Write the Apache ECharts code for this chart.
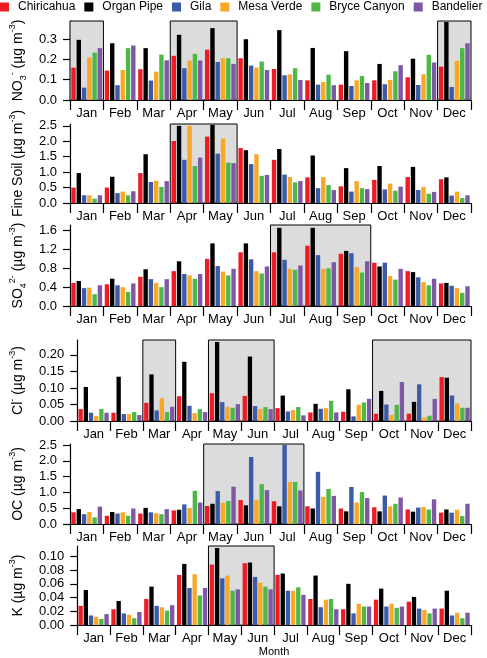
<!DOCTYPE html>
<html><head><meta charset="utf-8">
<script src="https://cdn.jsdelivr.net/npm/echarts@6/dist/echarts.min.js"></script>
<style>html,body{margin:0;padding:0;background:#fff}#c{width:487px;height:658px}</style>
</head><body><div id="c"></div>
<script>
const months = ['Jan','Feb','Mar','Apr','May','Jun','Jul','Aug','Sep','Oct','Nov','Dec'];
const sites = ['Chiricahua','Organ Pipe','Gila','Mesa Verde','Bryce Canyon','Bandelier'];
const siteColors = ['#ED1C24','#000000','#3B5BA9','#F9A825','#4DB848','#7E57A6'];

// NO3- (ug m-3)
const no3Chiricahua = [0.160,0.145,0.152,0.218,0.248,0.206,0.153,0.097,0.076,0.097,0.112,0.165];
const no3OrganPipe  = [0.297,0.280,0.256,0.322,0.355,0.300,0.345,0.257,0.241,0.178,0.204,0.385];
const no3Gila       = [0.061,0.073,0.096,0.157,0.188,0.170,0.122,0.076,0.069,0.078,0.074,0.064];
const no3MesaVerde  = [0.210,0.148,0.140,0.195,0.206,0.160,0.127,0.089,0.097,0.099,0.127,0.193];
const no3Bryce      = [0.234,0.256,0.224,0.228,0.206,0.190,0.157,0.125,0.119,0.142,0.223,0.256];
const no3Bandelier  = [0.256,0.269,0.196,0.195,0.178,0.148,0.099,0.073,0.084,0.172,0.185,0.280];
const no3Ticks = [0,0.1,0.2,0.3];

// Fine soil
const soilChiricahua = [0.50,0.50,0.97,2.01,2.15,1.78,1.40,0.83,0.54,0.75,0.84,0.77];
const soilOrganPipe  = [0.97,0.85,1.58,2.50,2.53,1.71,1.75,1.54,1.13,1.20,1.17,0.83];
const soilGila       = [0.25,0.32,0.68,1.40,1.60,1.26,0.92,0.48,0.37,0.44,0.42,0.24];
const soilMesaVerde  = [0.25,0.37,0.72,2.50,2.09,1.58,0.84,0.84,0.71,0.63,0.52,0.37];
const soilBryce      = [0.14,0.25,0.52,1.20,1.31,0.88,0.67,0.58,0.48,0.40,0.30,0.16];
const soilBandelier  = [0.25,0.38,0.71,1.47,1.29,0.91,0.71,0.42,0.45,0.53,0.36,0.25];
const soilTicks = [0,0.5,1.0,1.5,2.0,2.5];

// SO4 2-
const so4Chiricahua = [0.49,0.46,0.62,0.74,1.00,1.14,1.14,1.28,1.11,0.92,0.74,0.48];
const so4OrganPipe  = [0.53,0.58,0.78,0.95,1.33,1.33,1.66,1.66,1.17,0.84,0.72,0.49];
const so4Gila       = [0.38,0.44,0.57,0.68,0.85,0.99,0.98,1.08,1.12,0.92,0.61,0.43];
const so4MesaVerde  = [0.39,0.40,0.49,0.65,0.73,0.74,0.79,0.79,0.83,0.64,0.51,0.38];
const so4Bryce      = [0.25,0.30,0.40,0.58,0.65,0.69,0.77,0.80,0.71,0.56,0.44,0.28];
const so4Bandelier  = [0.44,0.48,0.57,0.68,0.79,0.84,0.86,0.93,0.95,0.79,0.58,0.42];
const so4Ticks = [0,0.4,0.8,1.2,1.6];

// Cl-
const clChiricahua = [0.036,0.025,0.055,0.075,0.084,0.076,0.039,0.026,0.028,0.022,0.022,0.133];
const clOrganPipe  = [0.103,0.134,0.141,0.179,0.239,0.195,0.077,0.052,0.096,0.091,0.058,0.131];
const clGila       = [0.025,0.021,0.032,0.046,0.057,0.045,0.029,0.037,0.014,0.050,0.111,0.077];
const clMesaVerde  = [0.015,0.021,0.069,0.024,0.043,0.036,0.033,0.039,0.049,0.018,0.011,0.053];
const clBryce      = [0.036,0.027,0.027,0.036,0.040,0.042,0.042,0.061,0.056,0.049,0.016,0.040];
const clBandelier  = [0.025,0.018,0.043,0.027,0.051,0.036,0.017,0.026,0.067,0.118,0.067,0.040];
const clTicks = [0,0.05,0.10,0.15,0.20];

// OC
const ocChiricahua = [0.37,0.26,0.33,0.43,0.57,0.76,0.72,0.56,0.49,0.53,0.46,0.36];
const ocOrganPipe  = [0.47,0.38,0.51,0.45,0.64,0.59,0.56,0.49,0.40,0.40,0.39,0.46];
const ocGila       = [0.31,0.33,0.37,0.62,1.04,2.12,2.50,1.65,1.17,0.90,0.52,0.36];
const ocMesaVerde  = [0.38,0.37,0.34,0.51,0.67,0.76,1.33,0.86,0.68,0.56,0.54,0.45];
const ocBryce      = [0.21,0.26,0.31,1.05,0.73,1.26,1.33,1.11,1.01,0.64,0.46,0.25];
const ocBandelier  = [0.55,0.49,0.47,0.68,1.18,1.07,1.06,0.89,0.82,0.84,0.78,0.64];
const ocTicks = [0,0.5,1.0,1.5,2.0,2.5];

// K
const kChiricahua = [0.028,0.023,0.038,0.073,0.088,0.090,0.073,0.038,0.023,0.037,0.034,0.024];
const kOrganPipe  = [0.051,0.035,0.056,0.089,0.112,0.091,0.075,0.072,0.060,0.053,0.041,0.050];
const kGila       = [0.014,0.017,0.028,0.054,0.068,0.070,0.050,0.026,0.017,0.027,0.024,0.014];
const kMesaVerde  = [0.012,0.015,0.026,0.074,0.072,0.062,0.050,0.037,0.031,0.031,0.022,0.018];
const kBryce      = [0.009,0.010,0.021,0.043,0.050,0.056,0.055,0.038,0.027,0.025,0.017,0.010];
const kBandelier  = [0.016,0.019,0.029,0.054,0.052,0.052,0.044,0.023,0.027,0.027,0.024,0.018];
const kTicks = [0,0.02,0.04,0.06,0.08,0.10];

// highlighted month ranges
const no3Shade  = [['Jan','Jan'],['Apr','May'],['Dec','Dec']];
const soilShade = [['Apr','May']];
const so4Shade  = [['Jul','Sep']];
const clShade   = [['Mar','Mar'],['May','Jun'],['Oct','Dec']];
const ocShade   = [['May','Jul']];
const kShade    = [['May','Jun']];

const panels = [
  {name:'NO{sub|3}{sup|-} (µg m{sup|-3})', data:[no3Chiricahua,no3OrganPipe,no3Gila,no3MesaVerde,no3Bryce,no3Bandelier], ticks:no3Ticks, max:0.39, dec:1, shade:no3Shade, top:21, h:79},
  {name:'Fine Soil (µg m{sup|-3})', data:[soilChiricahua,soilOrganPipe,soilGila,soilMesaVerde,soilBryce,soilBandelier], ticks:soilTicks, max:2.56, dec:1, shade:soilShade, top:124, h:79},
  {name:'SO{sub|4}{sup|2-} (µg m{sup|-3})', data:[so4Chiricahua,so4OrganPipe,so4Gila,so4MesaVerde,so4Bryce,so4Bandelier], ticks:so4Ticks, max:1.72, dec:1, shade:so4Shade, top:225, h:81},
  {name:'Cl{sup|-} (µg m{sup|-3})', data:[clChiricahua,clOrganPipe,clGila,clMesaVerde,clBryce,clBandelier], ticks:clTicks, max:0.245, dec:2, shade:clShade, top:340, h:81},
  {name:'OC (µg m{sup|-3})', data:[ocChiricahua,ocOrganPipe,ocGila,ocMesaVerde,ocBryce,ocBandelier], ticks:ocTicks, max:2.53, dec:1, shade:ocShade, top:444, h:80},
  {name:'K (µg m{sup|-3})', data:[kChiricahua,kOrganPipe,kGila,kMesaVerde,kBryce,kBandelier], ticks:kTicks, max:0.115, dec:2, shade:kShade, top:546, h:81}
];

const FONT = "'Liberation Sans', Arial, Helvetica, sans-serif";
const grids = [], xAxes = [], yAxes = [], series = [];
panels.forEach((p, i) => {
  grids.push({left:67, right:16, top:p.top, height:p.h, containLabel:false});
  xAxes.push({
    type:'category', gridIndex:i, data:months,
    boundaryGap:true,
    axisLine:{show:true, lineStyle:{color:'#000', width:1.2}},
    axisTick:{show:true, alignWithLabel:false, length:10, lineStyle:{color:'#000', width:1.2}},
    axisLabel:{color:'#000', fontSize:13, fontFamily:FONT, margin:7, interval:0},
    splitLine:{show:false},
    name: i === panels.length-1 ? 'Month' : '',
    nameLocation:'middle', nameGap:19,
    nameTextStyle:{color:'#000', fontSize:11, fontFamily:FONT}
  });
  yAxes.push({
    type:'value', gridIndex:i, min:0, max:p.max,
    axisLine:{show:true, lineStyle:{color:'#000', width:1.2}},
    axisTick:{show:true, length:7, customValues:p.ticks, lineStyle:{color:'#000', width:1.2}},
    axisLabel:{color:'#000', fontSize:13, fontFamily:FONT, margin:13, customValues:p.ticks,
      formatter:(v)=>v.toFixed(p.dec)},
    splitLine:{show:false},
    name:p.name, nameLocation:'middle', nameRotate:90, nameGap:42,
    nameTextStyle:{color:'#000', fontSize:14, fontFamily:FONT, lineHeight:20,
      rich:{
        sub:{fontSize:9, fontFamily:FONT, color:'#000', lineHeight:9, verticalAlign:'bottom'},
        sup:{fontSize:9, fontFamily:FONT, color:'#000', lineHeight:9, verticalAlign:'top'}
      }}
  });
  p.data.forEach((arr, s) => {
    const ser = {
      type:'bar', name:sites[s], xAxisIndex:i, yAxisIndex:i, data:arr,
      barCategoryGap:'8%', barGap:'20%',
      itemStyle:{color:siteColors[s]},
      emphasis:{disabled:true}, animation:false
    };
    if (s === 0) {
      ser.markArea = {
        silent:true,
        itemStyle:{color:'#dcdcdc', borderColor:'#000', borderWidth:1},
        label:{show:false},
        data:p.shade.map(r => [{xAxis:r[0]},{xAxis:r[1]}])
      };
    }
    series.push(ser);
  });
});

const chart = echarts.init(document.getElementById('c'), null, {renderer:'canvas'});
chart.setOption({
  animation:false,
  color:siteColors,
  legend:{
    data:sites, left:0, top:1, width:487, padding:0, itemGap:9, itemWidth:13, itemHeight:9,
    icon:'path://M0,0L10,0L10,10L0,10Z M14.4,5L14.4,5.01',
    textStyle:{color:'#000', fontSize:12, fontFamily:FONT},
    selectedMode:false
  },
  grid:grids, xAxis:xAxes, yAxis:yAxes, series:series
});
</script>
</body></html>
